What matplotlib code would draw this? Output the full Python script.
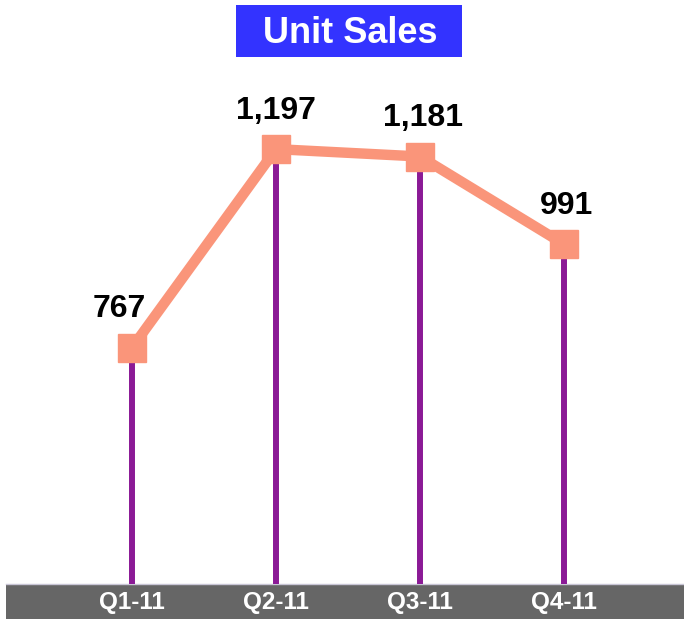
import matplotlib
matplotlib.use("Agg")
import matplotlib.pyplot as plt
from matplotlib.patches import Rectangle

quarters = ["Q1-11", "Q2-11", "Q3-11", "Q4-11"]
unit_sales = [767, 1197, 1181, 991]
value_labels = ["767", "1,197", "1,181", "991"]
title = "Unit Sales"

W, H = 684, 619
DPI = 100
fig = plt.figure(figsize=(W / DPI, H / DPI), dpi=DPI)
fig.patch.set_facecolor("white")
FONT = "Liberation Sans"

# gray band at bottom
band = Rectangle((6 / W, 0), 1 - 6 / W, 35 / H, transform=fig.transFigure,
                 facecolor="#666666", edgecolor="none", zorder=-2)
fig.add_artist(band)
fig.add_artist(plt.Line2D([6 / W, 1], [35 / H, 35 / H], transform=fig.transFigure,
                          color="#c9c6d6", lw=1.0, zorder=-1))

ax = fig.add_axes([6 / W, 35 / H, 678 / W, 584 / H])
ax.set_facecolor("none")
ax.set_zorder(1)
x = list(range(len(quarters)))
ax.set_xlim(-0.875, 3.833)
ax.set_ylim(255, 1520)

ymin = ax.get_ylim()[0]
ax.vlines(x, ymin, unit_sales, color="#8b1a96", lw=4.3, zorder=2)
ax.plot(x, unit_sales, color="#fa957a", lw=7.5, marker="s", markersize=20,
        markerfacecolor="#fa957a", markeredgecolor="#fa957a", zorder=3,
        solid_joinstyle="miter")

label_dx = [-9, 0, 2, 2]  # small horizontal nudges in points
for xi, v, lab, dx in zip(x, unit_sales, value_labels, label_dx):
    ax.annotate(lab, (xi, v), xytext=(dx, 22), textcoords="offset points",
                ha="center", va="baseline", fontsize=23, fontweight="bold",
                family=FONT, color="black", zorder=4)

for s in ax.spines.values():
    s.set_visible(False)
ax.set_yticks([])
ax.set_xticks(x)
ax.set_xticklabels(quarters, fontsize=17.5, fontweight="bold", family=FONT, color="white")
ax.tick_params(axis="x", length=0, pad=5)

# title box
fig.add_artist(Rectangle((236 / W, 1 - 57 / H), 226 / W, 52 / H, transform=fig.transFigure,
                         facecolor="#3333ff", edgecolor="none", zorder=5))
fig.text(350 / W, 1 - 43 / H, title, ha="center", va="baseline", fontsize=26,
         fontweight="bold", family=FONT, color="white", zorder=6)

fig.savefig("out.png", dpi=DPI, facecolor="white")
